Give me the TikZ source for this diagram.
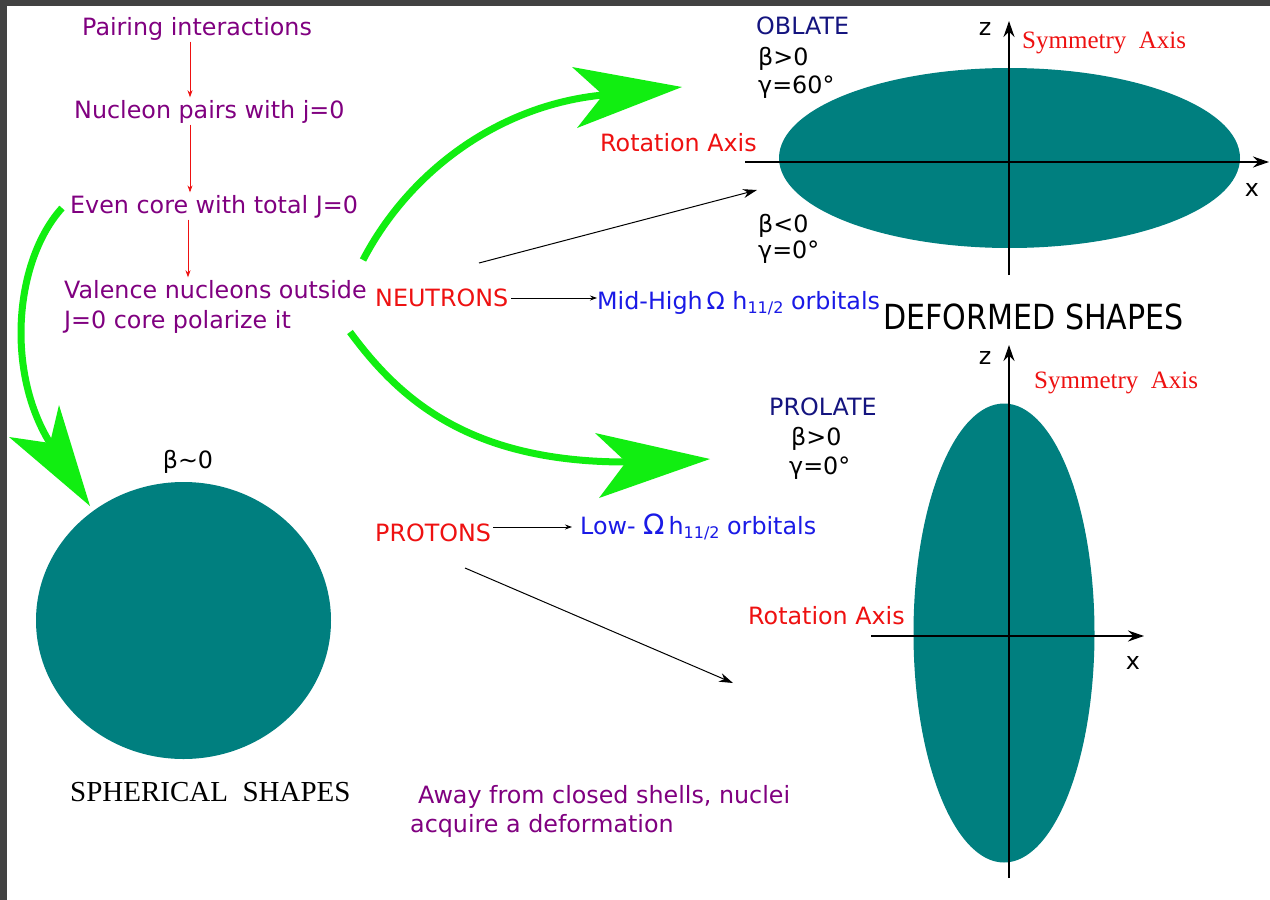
\documentclass[tikz,border=0pt]{standalone}
\usepackage{fontspec}
\setmainfont{DejaVu Sans}
\newfontfamily\serifb{Liberation Serif}
\newfontfamily\condf[FakeStretch=0.87]{DejaVu Sans}
\usetikzlibrary{arrows.meta,shapes.geometric}
\definecolor{tealf}{HTML}{007F7F}
\definecolor{purp}{HTML}{800080}
\definecolor{redt}{HTML}{EE1111}
\definecolor{bluet}{HTML}{1A1AE6}
\definecolor{navyt}{HTML}{14147F}
\definecolor{greena}{HTML}{11EE11}
\definecolor{framec}{HTML}{424242}
\newcommand{\hsubx}{h\raisebox{-4pt}{\fontsize{16}{16}\selectfont 11/2}}
\begin{document}
\begin{tikzpicture}[x=1pt,y=-1pt,
  txt/.style={inner sep=0pt, font=\fontsize{23.8}{29}\selectfont, anchor=west, align=left},
  ptxt/.style={txt, text=purp, yshift=-2pt},
  rtxt/.style={txt, text=redt},
  btxt/.style={txt, text=bluet},
  ntxt/.style={txt, text=navyt},
  ktxt/.style={txt, text=black},
  stxt/.style={inner sep=0pt, anchor=west, text=redt, font=\serifb\fontsize{25}{29}\selectfont},
  shape3d/.style={ellipse, fill=tealf, inner sep=0pt},
  redarr/.style={draw=redt, line width=0.8pt, -{Stealth[length=7pt,width=5pt]}},
  blkarr/.style={draw=black, line width=1pt, -{Stealth[length=14pt,width=9pt]}},
  smarr/.style={draw=black, line width=0.8pt, -{Stealth[length=7pt,width=5pt]}},
  axis/.style={draw=black, line width=1.6pt, -{Stealth[length=16pt,width=11pt]}},
  gshaft/.style={draw=greena, line width=7pt},
  ghead/.style={fill=greena}
]
\useasboundingbox (0,0) rectangle (1270,900);
\fill[framec] (0,0) rectangle (1270,900);
\fill[white] (7,6) rectangle (1270,900);

% shapes
\node[shape3d, minimum width=461pt, minimum height=180pt] (obl) at (1009.5,158) {};
\node[shape3d, minimum width=295pt, minimum height=277pt] (sph) at (183.5,620.5) {};
\node[shape3d, minimum width=181pt, minimum height=459pt] (pro) at (1004,633) {};

% axes
\coordinate (o1l) at (745,162);
\coordinate (o1r) at (1269,162);
\coordinate (o1b) at (1009,275);
\coordinate (o1t) at (1009,21);
\draw[axis] (o1l) -- (o1r);
\draw[axis] (o1b) -- (o1t);
\coordinate (p1l) at (871,636);
\coordinate (p1r) at (1144,636);
\coordinate (p1b) at (1009,878);
\coordinate (p1t) at (1009,345);
\draw[axis] (p1l) -- (p1r);
\draw[axis] (p1b) -- (p1t);

% left column
\node[ptxt] (pair) at (82,27) {Pairing interactions};
\node[ptxt] (nucl) at (74,110) {Nucleon pairs with j=0};
\node[ptxt] (even) at (70,205) {Even core with total J=0};
\node[ptxt, font=\fontsize{23.8}{30}\selectfont] (val) at (64,305) {Valence nucleons outside\\J=0 core polarize it};
\coordinate (lane) at (190,0);
\coordinate (lane2) at (188,0);
\draw[redarr] ([yshift=-1pt]pair.south -| lane) -- ([yshift=3pt]nucl.north -| lane);
\draw[redarr] ([yshift=-1pt]nucl.south -| lane) -- ([yshift=3pt]even.north -| lane);
\draw[redarr] ([yshift=-1pt]even.south -| lane2) -- ([yshift=3pt]val.north -| lane2);

% neutrons / protons
\node[rtxt] (neut) at (375,298) {NEUTRONS};
\node[btxt] (mid) at (597,303) {Mid-High\,Ω \hsubx{} orbitals};
\draw[smarr] ([xshift=3pt]neut.east) -- (neut.east -| mid.west);
\node[rtxt] (prot) at (375,533) {PROTONS};
\node[btxt] (low) at (580,527) {Low- {\fontsize{28}{28}\selectfont Ω}\,\hsubx{} orbitals};
\draw[smarr] ([xshift=2pt]prot.east |- low.west) -- ([xshift=-8pt]low.west);

\node[ktxt, font=\condf\fontsize{34.6}{34.6}\selectfont] (def) at (883,317) {DEFORMED SHAPES};

% oblate labels
\node[ntxt] (oblt) at (756,26) {OBLATE};
\node[ktxt, font=\fontsize{23.8}{28}\selectfont] (bg1) at (758,73) {β>0\\γ=60°};
\node[rtxt] (rot1) at (600,143) {Rotation Axis};
\node[ktxt, font=\fontsize{23.8}{26}\selectfont] (bg2) at (758,239) {β<0\\γ=0°};
\node[ktxt, anchor=center] (z1) at (985,29) {z};
\node[stxt] (sym1) at (1022,43) {Symmetry\ \ Axis};
\node[ktxt, anchor=center] (x1) at (1252,190) {x};

% prolate labels
\node[ntxt] (prolt) at (769,407) {PROLATE};
\node[ktxt, font=\fontsize{23.8}{29}\selectfont] (bg3) at (789,453) {\hspace{2pt}β>0\\γ=0°};
\node[ktxt, anchor=center] (z2) at (985,358) {z};
\node[stxt] (sym2) at (1034,383) {Symmetry\ \ Axis};
\node[ktxt, anchor=center] (x2) at (1133,663) {x};
\node[rtxt] (rot2) at (748,616) {Rotation Axis};

% spherical
\node[ktxt, anchor=center] (b0) at (188,462) {β∼0};
\node[inner sep=0pt, anchor=west, font=\serifb\fontsize{29}{29}\selectfont] (sphl) at (70,792) {SPHERICAL\ \ SHAPES};

% bottom text
\node[ptxt] (away1) at (418,795) {Away from closed shells, nuclei};
\node[ptxt] (away2) at (410,824) {acquire a deformation};

% black arrows
\coordinate (a1s) at (479,263);
\coordinate (a1e) at (757,190);
\draw[blkarr] (a1s) -- (a1e);
\coordinate (a2s) at (465,568);
\coordinate (a2e) at (733,683);
\draw[blkarr] (a2s) -- (a2e);

% green arrows
\coordinate (g1s) at (363,260);
\coordinate (g1n) at (603,95);
\coordinate (g1t) at (682,87);
\coordinate (g1u) at (572,67);
\coordinate (g1l) at (577,128);
\draw[gshaft] (g1s) .. controls (410,170) and (500,105) .. (g1n);
\fill[ghead] (g1t) -- (g1u) -- (g1n) -- (g1l) -- cycle;

\coordinate (g2s) at (350,332);
\coordinate (g2n) at (626,462);
\coordinate (g2t) at (710,459);
\coordinate (g2u) at (595,433);
\coordinate (g2l) at (599,498);
\draw[gshaft] (g2s) .. controls (400,400) and (470,462) .. (g2n);
\fill[ghead] (g2t) -- (g2u) -- (g2n) -- (g2l) -- cycle;

\coordinate (g3s) at (62,208);
\coordinate (g3n) at (50,443);
\coordinate (g3t) at (90,506);
\coordinate (g3u) at (59,405);
\coordinate (g3l) at (9,437);
\draw[gshaft] (g3s) .. controls (15,260) and (5,370) .. (g3n);
\fill[ghead] (g3t) -- (g3u) -- (g3n) -- (g3l) -- cycle;
\end{tikzpicture}
\end{document}
